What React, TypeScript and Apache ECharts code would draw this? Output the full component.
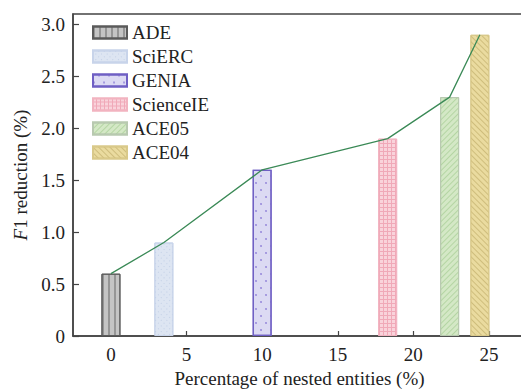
import React, { useEffect, useRef } from "react";
import * as echarts from "echarts";

const datasets = ["ADE", "SciERC", "GENIA", "ScienceIE", "ACE05", "ACE04"];
const nestedPct = [0, 3.5, 10, 18.3, 22.4, 24.4];
const f1Reduction = [0.6, 0.9, 1.6, 1.9, 2.3, 2.9];
const xTicks = [0, 5, 10, 15, 20, 25];
const yTicks = [0, 0.5, 1.0, 1.5, 2.0, 2.5, 3.0];

const styles: any[] = [
  {
    color: "#c4c4c4",
    borderColor: "#5a5a5a",
    borderWidth: 1,
    decal: { symbol: "rect", symbolSize: 1, color: "rgba(90,90,90,0.45)", dashArrayX: [2, 4], dashArrayY: [1, 0], rotation: 0 },
  },
  {
    color: "#dde5f2",
    borderColor: "#c8d4ea",
    borderWidth: 1,
    decal: { symbol: "rect", symbolSize: 1, color: "rgba(160,180,215,0.45)", dashArrayX: [1, 3], dashArrayY: [1, 3], rotation: Math.PI / 4 },
  },
  {
    color: "#dcdaf3",
    borderColor: "#6f5fc4",
    borderWidth: 1.2,
    decal: { symbol: "circle", symbolSize: 0.8, color: "#8a7ad6", dashArrayX: [[2, 8], [0, 5, 2, 3]], dashArrayY: [2, 5], rotation: 0 },
  },
  {
    color: "#f0a9b8",
    borderColor: "#f2b3c0",
    borderWidth: 1,
    decal: { symbol: "rect", symbolSize: 1, color: "#f9d3db", dashArrayX: [3, 1], dashArrayY: [3, 1], rotation: 0 },
  },
  {
    color: "#d4e8c6",
    borderColor: "#b8c9b0",
    borderWidth: 1,
    decal: { symbol: "rect", symbolSize: 1, color: "rgba(150,195,130,0.5)", dashArrayX: [1, 0], dashArrayY: [1, 3], rotation: -Math.PI / 4 },
  },
  {
    color: "#eadb9f",
    borderColor: "#d9c98a",
    borderWidth: 1,
    decal: { symbol: "rect", symbolSize: 1, color: "rgba(180,160,90,0.5)", dashArrayX: [1, 0], dashArrayY: [1, 3], rotation: Math.PI / 4 },
  },
];

const FONT = "Liberation Serif";
const FS = 19;

export default function App() {
  const ref = useRef<HTMLDivElement>(null);
  useEffect(() => {
    if (!ref.current) return;
    const chart = echarts.init(ref.current, null, { renderer: "svg" });
    const barSeries = datasets.map((name, i) => ({
      name,
      type: "bar",
      data: [[nestedPct[i], f1Reduction[i]]],
      barWidth: 19,
      barGap: "-100%",
      itemStyle: styles[i],
    }));
    chart.setOption({
      animation: false,
      backgroundColor: "#ffffff",
      textStyle: { fontFamily: FONT },
      grid: {
        left: 73,
        right: -5,
        top: 14,
        bottom: 53,
        outerBoundsMode: "none",
        containLabel: false,
        show: true,
        borderColor: "#444",
        borderWidth: 1.5,
      },
      legend: {
        left: 87,
        top: 18,
        orient: "vertical",
        itemWidth: 34,
        itemHeight: 12,
        itemGap: 5,
        icon: "rect",
        data: datasets,
        textStyle: { fontFamily: FONT, fontSize: FS, color: "#222" },
      },
      xAxis: {
        type: "value",
        min: -2.51,
        max: 27.45,
        name: "Percentage of nested entities (%)",
        nameLocation: "middle",
        nameGap: 32,
        nameTextStyle: { fontFamily: FONT, fontSize: FS, color: "#222" },
        axisLine: { show: true, onZero: false, lineStyle: { color: "#444", width: 1.5 } },
        axisTick: { show: true, inside: true, length: 5, lineStyle: { color: "#444", width: 1.2 }, customValues: xTicks },
        axisLabel: { fontFamily: FONT, fontSize: FS, color: "#222", margin: 9, customValues: xTicks },
        splitLine: { show: false },
      },
      yAxis: {
        type: "value",
        min: 0,
        max: 3.1,
        name: "{i|F}1 reduction (%)",
        nameLocation: "middle",
        nameGap: 41,
        nameTextStyle: {
          fontFamily: FONT,
          fontSize: FS,
          color: "#222",
          rich: {
            i: { fontFamily: FONT, fontSize: FS, fontStyle: "italic", color: "#222" },
          },
        },
        axisLine: { show: true, onZero: false, lineStyle: { color: "#444", width: 1.5 } },
        axisTick: { show: true, inside: true, length: 6, lineStyle: { color: "#444", width: 1.2 }, customValues: yTicks },
        axisLabel: {
          fontFamily: FONT,
          fontSize: FS,
          color: "#222",
          margin: 8,
          customValues: yTicks,
          formatter: (v: number) => (v === 0 ? "0" : v.toFixed(1)),
        },
        splitLine: { show: false },
      },
      series: [
        ...barSeries,
        {
          name: "trend",
          type: "line",
          data: nestedPct.map((x, i) => [x, f1Reduction[i]]),
          showSymbol: false,
          symbol: "none",
          lineStyle: { color: "#3b8a57", width: 1.3 },
          z: 5,
        },
      ],
    });
    return () => chart.dispose();
  }, []);
  return <div ref={ref} style={{ position: "fixed", left: 0, top: 0, width: 521, height: 389 }} />;
}
